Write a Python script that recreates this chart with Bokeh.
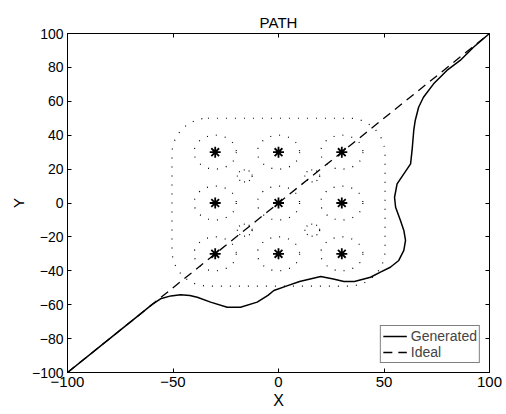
from bokeh.plotting import figure
from bokeh.models import Range1d, FixedTicker, LinearAxis, Legend, LegendItem, CustomJSTickFormatter
from bokeh.embed import file_html
from bokeh.resources import INLINE

# ---- data ----
obst_x = [-30, -30, -30, 0, 0, 0, 30, 30, 30]
obst_y = [-30, 0, 30, -30, 0, 30, -30, 0, 30]

gen_x = [-100, -80, -65.4, -60, -55.9, -51, -46.4, -42, -38.5, -32.2, -24.3, -18, -10.1, -5,
         -2.2, 4, 10, 20, 26, 31, 36, 43.6, 48.3, 53, 57, 59.4, 60.2, 59.4, 57.8, 55.5, 55,
         56.2, 59.4, 62.6, 63.3, 64.1, 64.8, 66.4, 68.7, 73.5, 79.8, 86.1, 92.4, 100]
gen_y = [-100, -80, -65.4, -60, -56.5, -54.8, -54.2, -54.6, -55.6, -58.5, -61.5, -61.5, -58.5,
         -54.5, -51.6, -48.9, -46.3, -43.4, -44.9, -46.3, -46.3, -43.8, -40.8, -37.9, -33.9,
         -28, -22.1, -16.2, -10.3, -2.5, 3.4, 11.3, 17.2, 23.1, 31, 42.8, 48.7, 56.5, 62.4,
         70.3, 78.2, 84.1, 91.9, 100]

ideal_x = [-100, 100]
ideal_y = [-100, 100]

# dotted potential contours: rings around obstacles, small rings, outer envelope
ring_x = obst_x
ring_y = obst_y
ring_d = [20] * 9
small_x = [-16, -16, 16, 16]
small_y = [-16, 16, -16, 16]
small_d = [7, 7, 7, 7]
env_x = [0]
env_y = [0.5]
env_w = [101]
env_h = [99]

x_ticks = [-100, -50, 0, 50, 100]
y_ticks = [-100, -80, -60, -40, -20, 0, 20, 40, 60, 80, 100]

FONT = "Liberation Sans"

p = figure(width=506, height=414, output_backend="svg", toolbar_location=None,
           x_range=Range1d(-100, 100), y_range=Range1d(-100, 100),
           title="PATH", min_border_left=67, min_border_right=17,
           min_border_top=33, min_border_bottom=42)
p.background_fill_color = "white"
p.border_fill_color = "white"
p.outline_line_color = "black"
p.outline_line_width = 1
p.grid.visible = False

p.title.align = "center"
p.title.text_font = FONT
p.title.text_font_size = "15px"
p.title.text_font_style = "normal"
p.title.text_color = "black"
p.title.standoff = 6

# contours (dotted)
dot = dict(fill_color=None, line_color="black", line_width=1.2, line_dash="1 8")
p.ellipse(x=ring_x, y=ring_y, width=ring_d, height=ring_d, **dot)
p.ellipse(x=small_x, y=small_y, width=small_d, height=small_d,
          fill_color=None, line_color="black", line_width=1.2, line_dash="1 4")
p.rect(x=env_x, y=env_y, width=env_w, height=env_h, border_radius=36, **dot)

# paths
r_ideal = p.line(ideal_x, ideal_y, line_color="black", line_width=1.3, line_dash="9 6")
r_gen = p.line(gen_x, gen_y, line_color="black", line_width=1.5)

# obstacles
p.scatter(obst_x, obst_y, marker="asterisk", size=11, line_color="black", line_width=1.8)

legend = Legend(items=[LegendItem(label="Generated", renderers=[r_gen]),
                       LegendItem(label="Ideal", renderers=[r_ideal])],
                location="bottom_right")
legend.label_text_font = FONT
legend.label_text_font_size = "14px"
legend.label_height = 10
legend.glyph_height = 10
legend.glyph_width = 24
legend.spacing = 0
legend.padding = 2
legend.margin = 9
legend.label_standoff = 4
legend.border_line_color = "black"
legend.border_line_width = 1
legend.background_fill_alpha = 1
p.add_layout(legend)

for ax, ticks in ((p.xaxis[0], x_ticks), (p.yaxis[0], y_ticks)):
    ax.ticker = FixedTicker(ticks=ticks)
    ax.major_tick_in = 4
    ax.major_tick_out = 0
    ax.minor_tick_line_color = None
    ax.axis_line_color = "black"
    ax.major_tick_line_color = "black"
    ax.major_label_text_font = FONT
    ax.major_label_text_color = "black"
    ax.axis_label_text_font = FONT
    ax.axis_label_text_font_style = "normal"
    ax.axis_label_text_color = "black"
    ax.major_label_standoff = 4
    ax.axis_label_standoff = 2

p.xaxis[0].axis_label = "X"
p.yaxis[0].axis_label = "Y"
p.xaxis[0].major_label_text_font_size = "15px"
p.yaxis[0].major_label_text_font_size = "14px"
p.xaxis[0].axis_label_text_font_size = "16px"
p.yaxis[0].axis_label_text_font_size = "15px"

blank = CustomJSTickFormatter(code="return ''")
top = LinearAxis(ticker=FixedTicker(ticks=x_ticks), major_tick_in=4, major_tick_out=0,
                 minor_tick_line_color=None, formatter=blank,
                 axis_line_color="black", major_label_standoff=0)
right = LinearAxis(ticker=FixedTicker(ticks=y_ticks), major_tick_in=4, major_tick_out=0,
                   minor_tick_line_color=None, formatter=blank,
                   axis_line_color="black", major_label_standoff=0)
p.add_layout(top, "above")
p.add_layout(right, "right")

open("out.html", "w").write(file_html(p, INLINE))
